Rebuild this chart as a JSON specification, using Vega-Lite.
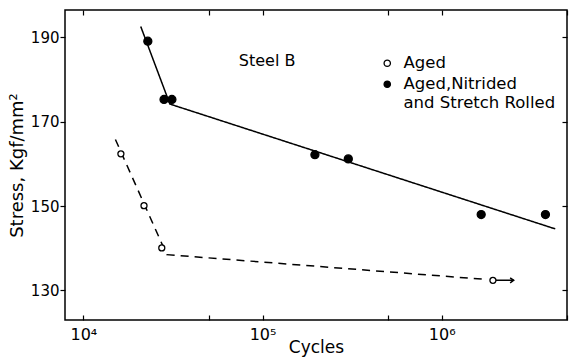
{
  "$schema": "https://vega.github.io/schema/vega-lite/v6.json",
  "width": 502,
  "height": 310,
  "autosize": {"type": "none"},
  "padding": {"left": 65, "top": 10, "right": 14, "bottom": 39},
  "background": "white",
  "config": {
    "view": {"stroke": "black", "strokeWidth": 1.5},
    "font": "DejaVu Sans",
    "style": {"guide-label": {"lineHeight": 18.5}},
    "axis": {
      "grid": false,
      "domain": false,
      "tickColor": "black",
      "tickWidth": 1.2,
      "labelColor": "black",
      "titleColor": "black",
      "labelFont": "DejaVu Sans",
      "titleFont": "DejaVu Sans",
      "labelFontSize": 15,
      "titleFontSize": 17,
      "titleFontWeight": "normal"
    }
  },
  "datasets": {
    "pts": [
      {"series": "Aged", "cycles": 16200, "stress": 162.4},
      {"series": "Aged", "cycles": 21800, "stress": 150.1},
      {"series": "Aged", "cycles": 27400, "stress": 140.1},
      {"series": "Aged", "cycles": 1930000, "stress": 132.4},
      {"series": "Aged,Nitrided and Stretch Rolled", "cycles": 22900, "stress": 189.1},
      {"series": "Aged,Nitrided and Stretch Rolled", "cycles": 28200, "stress": 175.3},
      {"series": "Aged,Nitrided and Stretch Rolled", "cycles": 31200, "stress": 175.3},
      {"series": "Aged,Nitrided and Stretch Rolled", "cycles": 196000, "stress": 162.2},
      {"series": "Aged,Nitrided and Stretch Rolled", "cycles": 301000, "stress": 161.2},
      {"series": "Aged,Nitrided and Stretch Rolled", "cycles": 1660000, "stress": 148.0},
      {"series": "Aged,Nitrided and Stretch Rolled", "cycles": 3790000, "stress": 148.0}
    ],
    "fits": [
      {"curve": "solid", "order": 1, "cycles": 20900, "stress": 192.6},
      {"curve": "solid", "order": 2, "cycles": 30400, "stress": 174.2},
      {"curve": "solid", "order": 3, "cycles": 4300000, "stress": 144.6},
      {"curve": "dashed", "order": 1, "cycles": 15100, "stress": 165.8},
      {"curve": "dashed", "order": 2, "cycles": 29200, "stress": 138.5},
      {"curve": "dashed", "order": 3, "cycles": 1790000, "stress": 132.6},
      {"curve": "arrow", "order": 1, "cycles": 2000000, "stress": 132.4},
      {"curve": "arrow", "order": 2, "cycles": 2520000, "stress": 132.4}
    ],
    "note": [{"label": "Steel B"}]
  },
  "resolve": {"axis": {"x": "independent", "y": "independent"}},
  "layer": [
    {
      "data": {"name": "fits"},
      "mark": {"type": "line", "color": "black", "strokeWidth": 1.5},
      "encoding": {
        "x": {
          "field": "cycles", "type": "quantitative",
          "scale": {"type": "log", "domain": [7900, 5000000], "nice": false},
          "axis": {
            "orient": "bottom", "title": "Cycles",
            "values": [10000, 50000, 100000, 500000, 1000000, 5000000],
            "labelExpr": "datum.value == 10000 ? '10⁴' : datum.value == 100000 ? '10⁵' : datum.value == 1000000 ? '10⁶' : ''",
            "tickSize": -5, "labelPadding": 11, "labelFontSize": 16,
            "titleY": 32, "titleBaseline": "alphabetic"
          }
        },
        "y": {
          "field": "stress", "type": "quantitative",
          "scale": {"domain": [123, 196.5], "nice": false, "zero": false},
          "axis": {
            "orient": "left", "title": "Stress,  Kgf/mm²", "titleFontSize": 18,
            "values": [130, 150, 170, 190],
            "tickSize": 5, "labelPadding": 1, "titlePadding": 4
          }
        },
        "detail": {"field": "curve"},
        "order": {"field": "order"},
        "strokeDash": {
          "field": "curve", "type": "nominal",
          "scale": {"domain": ["solid", "dashed", "arrow"], "range": [[1, 0], [8, 6], [1, 0]]},
          "legend": null
        }
      }
    },
    {
      "data": {"name": "pts"},
      "mark": {"type": "point", "shape": "circle", "filled": true, "stroke": "black", "strokeWidth": 1.3, "opacity": 1},
      "encoding": {
        "x": {
          "field": "cycles", "type": "quantitative",
          "axis": {"orient": "top", "title": null, "labels": false, "values": [10000, 50000, 100000, 500000, 1000000, 5000000], "tickSize": -5}
        },
        "y": {
          "field": "stress", "type": "quantitative",
          "axis": {"orient": "right", "title": null, "labels": false, "values": [130, 150, 170, 190], "tickSize": -5}
        },
        "fill": {
          "field": "series", "type": "nominal",
          "scale": {"domain": ["Aged", "Aged,Nitrided and Stretch Rolled"], "range": ["white", "black"]},
          "legend": {
            "orient": "none", "legendX": 314, "legendY": 45, "title": null,
            "symbolType": "circle", "symbolStrokeColor": "black", "symbolStrokeWidth": 1.3, "symbolSize": 40,
            "labelFont": "DejaVu Sans", "labelFontSize": 16.5, "labelColor": "black", "labelOffset": 8,
            "rowPadding": 4, "labelLimit": 300,
            "labelExpr": "datum.label == 'Aged' ? 'Aged' : ['Aged,Nitrided', 'and Stretch Rolled']"
          }
        },
        "size": {
          "condition": {"test": "datum.series == 'Aged'", "value": 36},
          "value": 64
        }
      }
    },
    {
      "data": {"name": "fits"},
      "transform": [{"filter": "datum.curve == 'arrow' && datum.order == 2"}],
      "mark": {"type": "point", "shape": "M-1,-0.7L0,0L-1,0.7", "filled": false, "stroke": "black", "strokeWidth": 1.5, "size": 50, "opacity": 1},
      "encoding": {
        "x": {"field": "cycles", "type": "quantitative", "axis": null},
        "y": {"field": "stress", "type": "quantitative", "axis": null}
      }
    },
    {
      "data": {"name": "note"},
      "mark": {"type": "text", "font": "DejaVu Sans", "fontSize": 16, "align": "center", "baseline": "middle", "color": "black"},
      "encoding": {
        "text": {"field": "label"},
        "x": {"datum": 106000, "type": "quantitative", "axis": null},
        "y": {"datum": 184.3, "type": "quantitative", "axis": null}
      }
    }
  ]
}
